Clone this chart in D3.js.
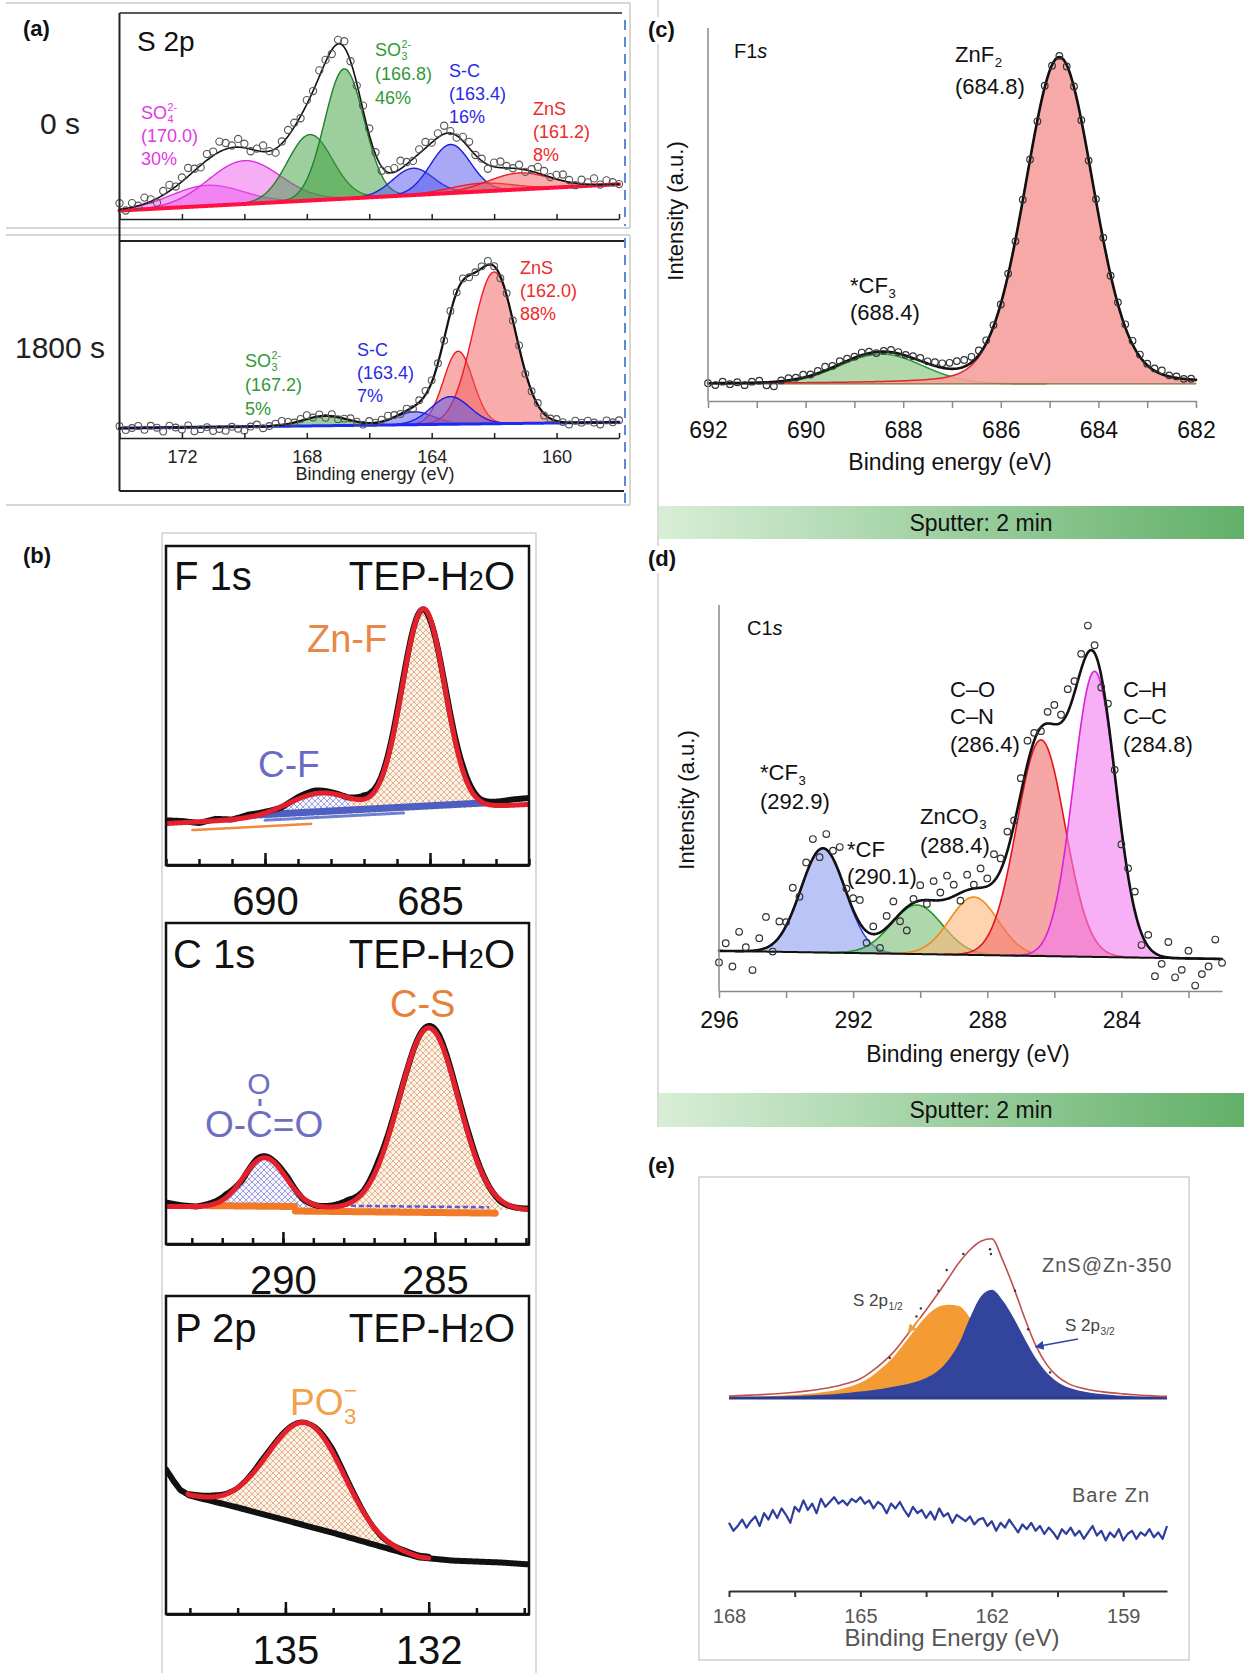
<!DOCTYPE html>
<html>
<head>
<meta charset="utf-8">
<title>XPS spectra</title>
<script src="https://cdn.jsdelivr.net/npm/d3@7"></script>
<style>
  body { margin: 0; background: #fff; }
  svg { display: block; font-family: "Liberation Sans", Arial, Helvetica, sans-serif; }
</style>
</head>
<body>
<svg id="fig" width="1244" height="1673"></svg>
<script>
// ---------------- data ----------------
// (a) S 2p, 0 s   (heights in plot units: 0 = axis line, 1 = frame top)
const a0Center = [171.2, 170.0, 167.9, 166.8, 164.6, 163.4, 162.4, 161.2];
const a0Height = [0.10, 0.21, 0.32, 0.63, 0.13, 0.236, 0.04, 0.08];
const a0Width  = [1.15, 1.15, 0.72, 0.63, 0.65, 0.64, 1.0, 1.0];
const a0Group  = ["SO4", "SO4", "SO3", "SO3", "SC", "SC", "ZnS", "ZnS"];
const a0Base   = [0.041, 0.169];            // background at 174 eV and 158 eV
// measured points minus fit, one every 0.2 eV from 174 eV
const a0Res = [0.03,-0.01,0.02,0.00,0.03,0.01,-0.02,0.02,0.03,0.00,
  0.02,0.04,0.01,-0.01,0.03,0.02,0.05,0.03,0.01,0.04,
  0.02,-0.01,0.01,0.03,0.00,-0.02,0.01,0.03,0.02,-0.01,
  0.02,0.00,0.03,0.01,-0.02,0.02,0.03,0.00,-0.01,0.02,
  0.03,0.01,-0.02,0.01,0.02,0.04,0.01,-0.01,0.02,0.03,
  0.00,0.02,0.04,0.01,-0.01,0.02,0.03,0.00,0.01,-0.02,
  0.02,0.03,0.01,0.00,0.02,-0.01,0.01,0.03,0.02,0.00,
  0.02,0.03,0.01,-0.01,0.02,0.01,0.03,0.00,0.02,0.01,0.00];

// (a) S 2p, 1800 s
const a1Center = [167.4, 164.55, 163.15, 162.0, 163.4];
const a1Height = [0.05, 0.065, 0.37, 0.77, 0.14];
const a1Width  = [0.7, 0.62, 0.47, 0.68, 0.62];
const a1Group  = ["SO3", "SC", "ZnS", "ZnS", "SC"];
const a1Base   = [0.05, 0.08];
const a1Res = [0.01,-0.01,0.00,0.01,-0.01,0.01,0.00,-0.02,0.01,0.00,
  -0.01,0.01,-0.02,-0.01,0.00,-0.02,-0.01,-0.02,0.00,-0.01,
  -0.02,0.00,0.01,-0.01,0.00,0.01,0.02,0.01,0.00,0.01,
  0.02,0.00,0.01,-0.01,0.01,-0.01,0.00,0.01,0.00,-0.01,
  0.01,0.00,0.01,0.02,0.01,0.00,0.01,-0.01,0.01,0.02,
  0.01,0.00,-0.01,0.01,0.00,0.01,-0.01,0.00,0.01,0.02,
  0.00,-0.01,0.01,0.00,0.01,-0.01,0.00,0.01,-0.01,0.00,
  0.01,0.00,-0.01,0.01,0.00,0.01,0.00,-0.01,0.01,0.00,0.01];
const aTicks  = [174, 172, 170, 168, 166, 164, 162, 160, 158];
const aLabels = [172, 168, 164, 160];

// (b) TEP-H2O: F 1s, C 1s, P 2p
const f1Center = [688.3, 685.2], f1Height = [0.07, 0.63], f1Width = [1.0, 0.65];
const f1Base = [0.13, 0.19];                 // at 693 and 682 eV
const f1Res = [0.01,0.005,-0.004,0.006,0.0,0.008,0.004,-0.003,0.006,0.01,0.004,0.0,
  0.012,0.006,0.01,0.004,-0.006,0.008,0.015,0.006,0.012,0.018,0.02];   // every 0.5 eV
const c1Center = [290.6, 285.2], c1Height = [0.155, 0.565], c1Width = [0.7, 0.98];
const c1Base = [0.117, 0.105];               // at 293.85 and 281.9 eV
const c1Res = [0.012,0.004,0.0,0.006,0.01,-0.004,0.006,0.003,0.008,-0.003,0.0,0.005,
  0.012,0.004,0.014,0.006,0.0,0.004,0.01,0.006,0.008,0.002,-0.004,0.0,0.004];
const p2BgEv = [137.5, 137.35, 137.2, 137.0, 136.0, 135.0, 134.0, 133.0, 132.2, 131.5, 130.5, 129.9];
const p2Bg   = [0.455, 0.42, 0.39, 0.372, 0.335, 0.295, 0.255, 0.212, 0.178, 0.168, 0.162, 0.156];
const p2Center = [134.9, 134.2], p2Height = [0.2, 0.17], p2Width = [0.7, 0.65];
const p2Res = [0,0.004,0.006,0.0,0.008,0.004,0.0,0.012,0.006,-0.004,0.004,0.006,0.002,0.004,0.008,0.01];
const f1Minor = d3.range(693, 681, -1), f1Major = [690, 685];
const c1Minor = d3.range(293, 281, -1), c1Major = [290, 285];
const p2Minor = d3.range(137, 129, -1), p2Major = [135, 132];

// (c) F1s, sputter 2 min
const cCenter = [688.45, 684.8], cHeight = [0.08, 0.876], cWidth = [0.85, 0.7], cEta = [0, 0.15];
const cGroup = ["CF3", "ZnF2"];
const cBase = [0.046, 0.046];
const cRes = [0.000,-0.005,0.004,-0.003,0.002,-0.006,0.003,0.005,-0.008,-0.012,
  0.002,0.006,0.004,0.008,0.003,0.006,0.010,0.004,0.008,0.006,
  0.003,0.007,0.004,-0.003,0.002,0.006,0.004,0.002,0.005,0.008,
  0.006,0.010,0.012,0.016,0.020,0.018,0.015,0.012,0.008,0.004,
  -0.002,0.003,-0.004,0.002,0.000,-0.003,0.004,-0.002,0.003,-0.004,
  0.002,0.000,-0.003,0.004,0.006,-0.002,0.005,0.008,0.010,0.006,
  0.004,0.006,0.010,0.003,0.004,0.000,0.002];          // every 0.15 eV from 692
const cTicks = d3.range(692, 681, -1), cLabels = [692, 690, 688, 686, 684, 682];

// (d) C1s, sputter 2 min
const dCenter = [292.9, 290.1, 288.4, 286.4, 284.8];
const dHeight = [0.27, 0.127, 0.15, 0.56, 0.74];
const dWidth  = [0.66, 0.76, 0.72, 0.72, 0.63];
const dGroup  = ["CF3", "CF", "ZnCO3", "CO", "CH"];
const dBase   = [0.104, 0.083];              // at 296 and 281 eV
const dRes = [-0.03,0.02,-0.04,0.05,0.01,-0.05,0.03,0.08,-0.02,0.04,
  0.01,0.06,-0.01,0.03,0.05,-0.02,0.04,0.02,0.07,0.01,
  0.03,0.06,-0.03,0.02,-0.04,0.03,0.05,-0.02,-0.06,0.01,
  0.04,-0.01,0.05,0.02,0.06,0.03,-0.02,0.04,0.01,0.05,
  0.02,0.07,0.03,0.05,0.01,0.04,0.06,0.02,-0.01,0.03,
  0.05,0.02,0.06,0.03,0.04,0.07,0.02,-0.03,0.04,0.01,
  -0.04,0.02,0.05,-0.03,0.03,-0.06,-0.02,0.04,-0.05,-0.03,
  0.02,-0.07,-0.04,-0.02,0.05,-0.01];                  // every 0.2 eV from 296
const dTicks = d3.range(296, 281, -2), dLabels = [296, 292, 288, 284];

// (e) ZnS@Zn-350 and bare Zn, every 0.25 eV from 168 eV (peak of envelope = 1)
const eEnv = [0.012,0.015,0.018,0.021,0.025,0.03,0.036,0.043,0.052,0.063,
  0.077,0.095,0.12,0.165,0.22,0.285,0.37,0.46,0.55,0.645,
  0.745,0.845,0.925,0.98,0.995,0.86,0.69,0.5,0.33,0.21,
  0.135,0.09,0.065,0.05,0.04,0.032,0.026,0.02,0.016,0.012,0.01];
const eP12 = [0.004,0.006,0.008,0.01,0.013,0.016,0.02,0.025,0.031,0.04,
  0.052,0.07,0.095,0.135,0.19,0.255,0.34,0.43,0.51,0.565,
  0.583,0.575,0.5,0.36,0.235,0.14,0.085,0.055,0.038,0.028,
  0.02,0.015,0.011,0.008,0.006,0.004,0.003,0.002,0.001,0,0];
const eP32 = [0.003,0.004,0.005,0.006,0.008,0.01,0.012,0.015,0.018,0.022,
  0.027,0.033,0.04,0.048,0.058,0.07,0.083,0.1,0.125,0.165,
  0.235,0.34,0.5,0.635,0.677,0.61,0.5,0.37,0.25,0.16,
  0.1,0.065,0.045,0.033,0.025,0.019,0.014,0.01,0.007,0.005,0.004];
const eDots = [[164.33,0.25],[163.72,0.51],[163.62,0.56],[163.22,0.67],[163.03,0.80],
  [162.65,0.9],[162.04,0.93],[162.02,0.9],[161.47,0.67],[161.17,0.43],[160.67,0.16]];
// bare Zn, every 0.1 eV from 168 eV
const eBare = [-0.78,-0.83,-0.80,-0.76,-0.81,-0.77,-0.74,-0.80,-0.72,-0.76,
  -0.70,-0.75,-0.69,-0.73,-0.78,-0.68,-0.71,-0.64,-0.70,-0.66,
  -0.72,-0.63,-0.68,-0.65,-0.62,-0.66,-0.64,-0.67,-0.63,-0.65,
  -0.62,-0.66,-0.64,-0.69,-0.65,-0.67,-0.72,-0.66,-0.69,-0.65,
  -0.70,-0.74,-0.68,-0.72,-0.70,-0.75,-0.71,-0.76,-0.69,-0.74,
  -0.72,-0.78,-0.73,-0.75,-0.77,-0.74,-0.79,-0.76,-0.75,-0.80,
  -0.77,-0.83,-0.78,-0.81,-0.76,-0.80,-0.84,-0.79,-0.82,-0.78,
  -0.83,-0.80,-0.85,-0.81,-0.84,-0.88,-0.82,-0.85,-0.81,-0.86,
  -0.83,-0.88,-0.84,-0.80,-0.86,-0.83,-0.89,-0.84,-0.87,-0.82,
  -0.89,-0.85,-0.83,-0.88,-0.84,-0.86,-0.82,-0.87,-0.84,-0.88,-0.80];
const eTicks = [168, 166.5, 165, 163.5, 162, 160.5, 159], eLabels = [168, 165, 162, 159];

// ---------------- helpers ----------------
const svg = d3.select("#fig");
svg.append("rect").attr("width", 1244).attr("height", 1673).attr("fill", "#fff");
const defs = svg.append("defs");

const pv = (e, p) => p.h * ((1 - p.eta) * Math.exp(-((e - p.c) ** 2) / (2 * p.w * p.w))
  + p.eta / (1 + ((e - p.c) / (1.1774 * p.w)) ** 2));
const peaks = (c, h, w, g, eta) => c.map((v, i) => ({ c: v, h: h[i], w: w[i], g: g ? g[i] : null, eta: eta ? eta[i] : 0 }));
const fit = (e, base, ps) => base(e) + d3.sum(ps, p => pv(e, p));

function txt(g, x, y, s, size, o = {}) {
  return g.append("text").attr("x", x).attr("y", y).attr("font-size", size)
    .attr("fill", o.fill || "#111").attr("text-anchor", o.anchor || "start")
    .attr("font-weight", o.weight || null).attr("font-style", o.style || null)
    .attr("letter-spacing", o.ls || null).text(s);
}
function chem(g, x, y, base, sub, sup, size, fill) {
  const t = txt(g, x, y, base, size, { fill });
  const w = t.node().getComputedTextLength();
  if (sub) txt(g, x + w + 0.5, y + size * 0.24, sub, size * 0.6, { fill });
  if (sup) txt(g, x + w + 0.5, y - size * 0.45, sup, size * 0.6, { fill });
}
function block(g, x, y, head, lines, size, gap, fill) {
  chem(g, x, y, head[0], head[1], head[2], size, fill);
  lines.forEach((s, i) => txt(g, x, y + gap * (i + 1), s, size, { fill }));
}
function line(g, x1, y1, x2, y2, col, w, dash) {
  g.append("line").attr("x1", x1).attr("y1", y1).attr("x2", x2).attr("y2", y2)
    .attr("stroke", col).attr("stroke-width", w).attr("stroke-dasharray", dash || null);
}
function drawComps(g, xs, ys, grid, base, ps, pal, op, sw) {
  ps.forEach(p => {
    const pts = p.eta ? grid : grid.filter(e => Math.abs(e - p.c) < 4 * p.w);
    g.append("path").datum(pts)
      .attr("d", d3.area().x(e => xs(e)).y0(e => ys(base(e))).y1(e => ys(base(e) + pv(e, p))))
      .attr("fill", pal[p.g].fill).attr("fill-opacity", op);
    g.append("path").datum(pts)
      .attr("d", d3.line().x(e => xs(e)).y(e => ys(base(e) + pv(e, p))))
      .attr("fill", "none").attr("stroke", pal[p.g].line).attr("stroke-width", sw);
  });
}
function curve(g, xs, ys, grid, f, col, w) {
  g.append("path").datum(grid).attr("d", d3.line().x(e => xs(e)).y(e => ys(f(e))))
    .attr("fill", "none").attr("stroke", col).attr("stroke-width", w)
    .attr("stroke-linejoin", "round").attr("stroke-linecap", "round");
}
function circles(g, xs, ys, pts, r, col, w) {
  g.selectAll(null).data(pts).enter().append("circle")
    .attr("cx", d => xs(d[0])).attr("cy", d => ys(d[1])).attr("r", r)
    .attr("fill", "none").attr("stroke", col).attr("stroke-width", w);
}
function styleAxis(sel, col, w, size, fill) {
  sel.attr("font-family", null).attr("font-size", size);
  sel.select(".domain").attr("stroke", col).attr("stroke-width", w);
  sel.selectAll(".tick line").attr("stroke", col).attr("stroke-width", w);
  sel.selectAll(".tick text").attr("fill", fill);
}

// gradient for the sputter bars and hatches for panel (b)
const gr = defs.append("linearGradient").attr("id", "sputter");
gr.append("stop").attr("offset", "0%").attr("stop-color", "#d8eed6");
gr.append("stop").attr("offset", "100%").attr("stop-color", "#62b06a");
function hatch(id, bg, ln) {
  const p = defs.append("pattern").attr("id", id).attr("width", 6).attr("height", 6)
    .attr("patternUnits", "userSpaceOnUse");
  p.append("rect").attr("width", 6).attr("height", 6).attr("fill", bg);
  p.append("path").attr("d", "M0,0L6,6M6,0L0,6").attr("stroke", ln).attr("stroke-width", 0.8);
}
hatch("hOr", "#fdf2e6", "#e0a07c");
hatch("hBl", "#f6f6ff", "#8a8ad6");

// ---------------- panel (a) ----------------
const gA = svg.append("g");
const xA = d3.scaleLinear([174, 158], [119.5, 619]);
const yA0 = d3.scaleLinear([0, 1], [219, 13]);
const yA1 = d3.scaleLinear([0, 1], [438, 241]);
const gridA = d3.range(174, 157.99, -0.02);
const palA = {
  SO4: { fill: "#ee5cee", line: "#dc32dc" }, SO3: { fill: "#3c9e3c", line: "#23802a" },
  SC: { fill: "#5252ee", line: "#1f1fe0" }, ZnS: { fill: "#f25a5a", line: "#ee1c24" }
};

// frame lines of the (a) image
[3, 228, 235, 505].forEach(y => line(gA, 6, y, 630, y, "#c8c8c8", 1.5));
line(gA, 630, 3, 630, 228, "#c8c8c8", 1.5);
line(gA, 630, 235, 630, 505, "#c8c8c8", 1.5);
line(gA, 625, 20, 625, 226, "#5b8bd6", 2, "10 7");
line(gA, 625, 238, 625, 505, "#5b8bd6", 2, "10 7");

// 0 s
const base0 = d3.scaleLinear([174, 158], a0Base);
const ps0 = peaks(a0Center, a0Height, a0Width, a0Group);
drawComps(gA, xA, yA0, gridA, base0, ps0, palA, 0.5, 1.4);
curve(gA, xA, yA0, gridA, base0, "#ff1040", 4);
curve(gA, xA, yA0, gridA, e => fit(e, base0, ps0), "#111", 1.6);
circles(gA, xA, yA0, a0Res.map((r, i) => [174 - 0.2 * i, fit(174 - 0.2 * i, base0, ps0) + r]), 3.6, "#555", 1.1);

// 1800 s
const base1 = d3.scaleLinear([174, 158], a1Base);
const ps1 = peaks(a1Center, a1Height, a1Width, a1Group);
drawComps(gA, xA, yA1, gridA, base1, ps1, palA, 0.5, 1.4);
curve(gA, xA, yA1, gridA, base1, "#1b2cf0", 3);
curve(gA, xA, yA1, gridA, e => fit(e, base1, ps1), "#111", 2.2);
circles(gA, xA, yA1, a1Res.map((r, i) => [174 - 0.2 * i, fit(174 - 0.2 * i, base1, ps1) + r]), 3.4, "#555", 1.1);

// axes and frames
line(gA, 119.5, 13, 622, 13, "#222", 1.5);
line(gA, 119.5, 13, 119.5, 491, "#222", 2);
line(gA, 119.5, 241, 624, 241, "#222", 2);
line(gA, 119.5, 491, 624, 491, "#222", 2);
const axA = lab => d3.axisBottom(xA).tickValues(aTicks).tickSizeInner(-5).tickSizeOuter(0)
  .tickPadding(12).tickFormat(d => lab && aLabels.includes(d) ? d : "");
styleAxis(gA.append("g").attr("transform", "translate(0,219)").call(axA(false)), "#222", 1.5, 18, "#222");
styleAxis(gA.append("g").attr("transform", "translate(0,438)").call(axA(true)), "#222", 1.5, 18, "#222");
txt(gA, 375, 480, "Binding energy (eV)", 18, { anchor: "middle", fill: "#222" });

txt(gA, 137, 51, "S 2p", 28, { fill: "#111" });
txt(gA, 40, 134, "0 s", 30, { fill: "#222" });
txt(gA, 15, 358, "1800 s", 30, { fill: "#222" });
block(gA, 141, 119, ["SO", "4", "2-"], ["(170.0)", "30%"], 18, 23, "#e23ae2");
block(gA, 375, 56, ["SO", "3", "2-"], ["(166.8)", "46%"], 18, 24, "#2f9a35");
block(gA, 449, 77, ["S-C"], ["(163.4)", "16%"], 18, 23, "#2a2ae6");
block(gA, 533, 115, ["ZnS"], ["(161.2)", "8%"], 18, 23, "#ee2a2a");
block(gA, 520, 274, ["ZnS"], ["(162.0)", "88%"], 18, 23, "#ee2a2a");
block(gA, 245, 367, ["SO", "3", "2-"], ["(167.2)", "5%"], 18, 24, "#2f9a35");
block(gA, 357, 356, ["S-C"], ["(163.4)", "7%"], 18, 23, "#2a2ae6");

// ---------------- panel (b) ----------------
const gB = svg.append("g");
gB.append("rect").attr("x", 162).attr("y", 533).attr("width", 374).attr("height", 1145)
  .attr("fill", "none").attr("stroke", "#cfcfcf").attr("stroke-width", 1.5);

function bBox(id, top, bottom, xs, minor, major) {
  defs.append("clipPath").attr("id", id).append("rect")
    .attr("x", 166).attr("y", top).attr("width", 363).attr("height", bottom - top);
  const g = gB.append("g");
  const inner = g.append("g").attr("clip-path", `url(#${id})`);
  const frame = () => {
    g.append("rect").attr("x", 166).attr("y", top).attr("width", 363).attr("height", bottom - top)
      .attr("fill", "none").attr("stroke", "#111").attr("stroke-width", 2.5);
    const a1 = d3.axisBottom(xs).tickValues(minor).tickSizeInner(-6).tickSizeOuter(0).tickFormat("");
    const a2 = d3.axisBottom(xs).tickValues(major).tickSizeInner(-12).tickSizeOuter(0).tickPadding(22)
      .tickFormat(d3.format("d"));
    styleAxis(g.append("g").attr("transform", `translate(0,${bottom})`).call(a1), "#111", 2.5, 40, "#111");
    styleAxis(g.append("g").attr("transform", `translate(0,${bottom})`).call(a2), "#111", 2.5, 40, "#111");
  };
  return { g, inner, frame };
}
function tep(g, y) {
  const t = g.append("text").attr("x", 515).attr("y", y).attr("font-size", 40)
    .attr("text-anchor", "end").attr("fill", "#111");
  t.append("tspan").text("TEP-H");
  t.append("tspan").attr("font-size", 27).text("2");
  t.append("tspan").text("O");
}
function hatchArea(g, xs, ys, grid, lo, hi, base, top, pat) {
  g.append("path").datum(grid.filter(e => e <= lo && e >= hi))
    .attr("d", d3.area().x(e => xs(e)).y0(e => ys(base(e))).y1(e => ys(top(e))))
    .attr("fill", `url(#${pat})`);
}

// F 1s
{
  const xs = d3.scaleLinear([693, 682], [166, 529]);
  const ys = d3.scaleLinear([0, 1], [865, 546]);
  const grid = d3.range(693, 681.99, -0.02);
  const base = d3.scaleLinear([693, 682], f1Base);
  const ps = peaks(f1Center, f1Height, f1Width);
  const env = e => fit(e, base, ps);
  const b = bBox("clipF1", 546, 865, xs, f1Minor, f1Major);
  hatchArea(b.inner, xs, ys, grid, 690.6, 687.4, base, env, "hBl");
  hatchArea(b.inner, xs, ys, grid, 687.4, 683.2, base, env, "hOr");
  curve(b.inner, xs, ys, grid.filter(e => e <= 692.2 && e >= 688.6), e => base(e) - 0.025, "#f08a3c", 2.5);
  curve(b.inner, xs, ys, grid.filter(e => e <= 690.4 && e >= 683.3), e => base(e) + 0.012, "#4d5fc2", 7);
  curve(b.inner, xs, ys, grid.filter(e => e <= 690 && e >= 685.8), e => base(e) - 0.006, "#7080d0", 3);
  const res = d3.scaleLinear(f1Res.map((r, i) => 693 - 0.5 * i), f1Res);
  curve(b.inner, xs, ys, grid, e => env(e) + res(e), "#111", 6);
  curve(b.inner, xs, ys, grid, env, "#e3202b", 5);
  b.frame();
  txt(b.g, 174, 590, "F 1s", 40);
  tep(b.g, 590);
  txt(b.g, 307, 652, "Zn-F", 38, { fill: "#e8874a" });
  txt(b.g, 258, 777, "C-F", 37, { fill: "#6a6ac6" });
}
// C 1s
{
  const xs = d3.scaleLinear([293.85, 281.9], [166, 529]);
  const ys = d3.scaleLinear([0, 1], [1244, 923]);
  const grid = d3.range(293.85, 281.89, -0.02);
  const base = d3.scaleLinear([293.85, 281.9], c1Base);
  const ps = peaks(c1Center, c1Height, c1Width);
  const env = e => fit(e, base, ps);
  const b = bBox("clipC1", 923, 1244, xs, c1Minor, c1Major);
  hatchArea(b.inner, xs, ys, grid, 292.4, 288.9, base, env, "hBl");
  hatchArea(b.inner, xs, ys, grid, 287.7, 282.6, base, env, "hOr");
  curve(b.inner, xs, ys, grid.filter(e => e <= 292.5 && e >= 289.6), e => base(e) + 0.004, "#f07a28", 7);
  curve(b.inner, xs, ys, grid.filter(e => e <= 289.6 && e >= 283.0), e => base(e) - 0.01, "#f07a28", 7);
  b.inner.append("path").datum(grid.filter(e => e <= 288.3 && e >= 283.2))
    .attr("d", d3.line().x(e => xs(e)).y(e => ys(base(e) + 0.008)))
    .attr("fill", "none").attr("stroke", "#5a5ad0").attr("stroke-width", 2.5).attr("stroke-dasharray", "5 3");
  const res = d3.scaleLinear(c1Res.map((r, i) => 293.85 - 0.5 * i), c1Res);
  curve(b.inner, xs, ys, grid, e => env(e) + res(e), "#111", 6);
  curve(b.inner, xs, ys, grid, env, "#e3202b", 5);
  b.frame();
  txt(b.g, 173, 968, "C 1s", 40);
  tep(b.g, 968);
  txt(b.g, 390, 1017, "C-S", 38, { fill: "#e8803a" });
  txt(b.g, 259, 1094, "O", 30, { fill: "#6f6fc2", anchor: "middle" });
  line(b.g, 260, 1099, 260, 1106, "#6f6fc2", 3);
  txt(b.g, 205, 1137, "O-C=O", 37, { fill: "#6f6fc2" });
}
// P 2p
{
  const xs = d3.scaleLinear([137.5, 129.9], [166, 529]);
  const ys = d3.scaleLinear([0, 1], [1614, 1296]);
  const grid = d3.range(137.5, 129.89, -0.02);
  const base = d3.scaleLinear(p2BgEv, p2Bg);
  const ps = peaks(p2Center, p2Height, p2Width);
  const env = e => fit(e, base, ps);
  const b = bBox("clipP2", 1296, 1614, xs, p2Minor, p2Major);
  hatchArea(b.inner, xs, ys, grid, 136.9, 132.1, base, env, "hOr");
  curve(b.inner, xs, ys, grid, base, "#111", 6);
  const res = d3.scaleLinear(p2Res.map((r, i) => 137.5 - 0.5 * i), p2Res);
  curve(b.inner, xs, ys, grid.filter(e => e <= 137 && e >= 132), e => env(e) + res(e), "#111", 5);
  curve(b.inner, xs, ys, grid.filter(e => e <= 137.05 && e >= 132.0), env, "#e3202b", 5);
  b.frame();
  txt(b.g, 175, 1342, "P 2p", 40);
  tep(b.g, 1342);
  chem(b.g, 290, 1415, "PO", "3", "\u2212", 37, "#f2a24a");
}

// ---------------- panels (c) and (d) ----------------
const gC = svg.append("g");
line(gC, 658, 0, 658, 1127, "#cfcfcf", 1.5);
function sputterBar(g, y, h) {
  g.append("rect").attr("x", 659).attr("y", y).attr("width", 585).attr("height", h).attr("fill", "url(#sputter)");
  txt(g, 981, y + h / 2 + 8, "Sputter: 2 min", 23, { anchor: "middle", fill: "#111" });
}
function ylab(g, x, y) {
  g.append("text").attr("transform", `translate(${x},${y}) rotate(-90)`).attr("text-anchor", "middle")
    .attr("font-size", 22).attr("fill", "#111").text("Intensity (a.u.)");
}
function spectAxis(g, xs, y, ticks, labels) {
  const ax = d3.axisBottom(xs).tickValues(ticks).tickSizeInner(7).tickSizeOuter(0).tickPadding(14)
    .tickFormat(d => labels.includes(d) ? d : "");
  styleAxis(g.append("g").attr("transform", `translate(0,${y})`).call(ax), "#8a8a8a", 1.5, 23, "#111");
}

// (c) F1s
{
  const xs = d3.scaleLinear([692, 682], [708, 1196]);
  const ys = d3.scaleLinear([0, 1], [401, 28]);
  const grid = d3.range(692, 681.99, -0.02);
  const base = d3.scaleLinear([692, 682], cBase);
  const ps = peaks(cCenter, cHeight, cWidth, cGroup, cEta);
  const pal = { CF3: { fill: "#a9d5a3", line: "#2c9a35" }, ZnF2: { fill: "#f5a09d", line: "#e3262b" } };
  drawComps(gC, xs, ys, grid, base, ps, pal, 0.9, 1.5);
  curve(gC, xs, ys, grid, base, "#8a6a3a", 1.2);
  curve(gC, xs, ys, grid, e => fit(e, base, ps), "#111", 2.6);
  circles(gC, xs, ys, cRes.map((r, i) => [692 - 0.15 * i, fit(692 - 0.15 * i, base, ps) + r]), 3.3, "#333", 1.2);
  line(gC, 708, 28, 708, 401, "#8a8a8a", 1.5);
  spectAxis(gC, xs, 401, cTicks, cLabels);
  txt(gC, 950, 470, "Binding energy (eV)", 23, { anchor: "middle" });
  ylab(gC, 683, 211);
  const t = txt(gC, 734, 58, "F1", 20);
  t.append("tspan").attr("font-style", "italic").text("s");
  chem(gC, 955, 62, "ZnF", "2", null, 22, "#111");
  txt(gC, 955, 94, "(684.8)", 22);
  chem(gC, 850, 293, "*CF", "3", null, 22, "#111");
  txt(gC, 850, 320, "(688.4)", 22);
  sputterBar(gC, 506, 33);
}
// (d) C1s
{
  const xs = d3.scaleLinear([296, 281], [719, 1222]);
  const ys = d3.scaleLinear([0, 1], [991, 605]);
  const grid = d3.range(296, 280.99, -0.02);
  const base = d3.scaleLinear([296, 281], dBase);
  const ps = peaks(dCenter, dHeight, dWidth, dGroup);
  const pal = {
    CF3: { fill: "#8c9cf2", line: "#3447e0" }, CF: { fill: "#79bd75", line: "#1f9628" },
    ZnCO3: { fill: "#fbb777", line: "#f28a1c" }, CO: { fill: "#f26a6a", line: "#e2141c" },
    CH: { fill: "#f27af0", line: "#dc1fd8" }
  };
  drawComps(gC, xs, ys, grid, base, ps, pal, 0.6, 1.6);
  curve(gC, xs, ys, grid, base, "#111", 2);
  curve(gC, xs, ys, grid, e => fit(e, base, ps), "#111", 2.6);
  circles(gC, xs, ys, dRes.map((r, i) => [296 - 0.2 * i, fit(296 - 0.2 * i, base, ps) + r]), 3.3, "#333", 1.2);
  line(gC, 719, 605, 719, 991, "#8a8a8a", 1.5);
  spectAxis(gC, xs, 991, dTicks, dLabels);
  txt(gC, 968, 1062, "Binding energy (eV)", 23, { anchor: "middle" });
  ylab(gC, 694, 800);
  const t = txt(gC, 747, 635, "C1", 20);
  t.append("tspan").attr("font-style", "italic").text("s");
  chem(gC, 760, 780, "*CF", "3", null, 22, "#111");
  txt(gC, 760, 809, "(292.9)", 22);
  txt(gC, 847, 857, "*CF", 22);
  txt(gC, 847, 884, "(290.1)", 22);
  chem(gC, 920, 824, "ZnCO", "3", null, 22, "#111");
  txt(gC, 920, 853, "(288.4)", 22);
  txt(gC, 950, 697, "C\u2013O", 22);
  txt(gC, 950, 724, "C\u2013N", 22);
  txt(gC, 950, 752, "(286.4)", 22);
  txt(gC, 1123, 697, "C\u2013H", 22);
  txt(gC, 1123, 724, "C\u2013C", 22);
  txt(gC, 1123, 752, "(284.8)", 22);
  sputterBar(gC, 1093, 34);
}

// ---------------- panel (e) ----------------
const gE = svg.append("g");
gE.append("rect").attr("x", 699).attr("y", 1177).attr("width", 490).attr("height", 483)
  .attr("fill", "none").attr("stroke", "#cfcfcf").attr("stroke-width", 1.5);
{
  const xs = d3.scaleLinear([168, 158], [729, 1167]);
  const ys = d3.scaleLinear([-1, 1], [1558, 1238]);
  const ev = eEnv.map((v, i) => 168 - 0.25 * i);
  const area = vals => d3.area().x((d, i) => xs(ev[i])).y0(ys(0)).y1(d => ys(d)).curve(d3.curveMonotoneX)(vals);
  gE.append("path").attr("d", area(eP12)).attr("fill", "#f59b33");
  gE.append("path").attr("d", area(eP32)).attr("fill", "#33449c");
  line(gE, xs(168), ys(0), xs(158), ys(0), "#2a3a8c", 3);
  gE.append("path").attr("d", d3.line().x((d, i) => xs(ev[i])).y(d => ys(d)).curve(d3.curveMonotoneX)(eEnv))
    .attr("fill", "none").attr("stroke", "#c0504d").attr("stroke-width", 1.6);
  gE.selectAll(null).data(eDots).enter().append("circle")
    .attr("cx", d => xs(d[0])).attr("cy", d => ys(d[1])).attr("r", 1.2).attr("fill", "#333");
  gE.append("path").attr("d", d3.line().x((d, i) => xs(168 - 0.1 * i)).y(d => ys(d))(eBare))
    .attr("fill", "none").attr("stroke", "#2c3d9c").attr("stroke-width", 2.2).attr("stroke-linejoin", "round");
  // axis
  const ax = d3.axisBottom(xs).tickValues(eTicks).tickSizeInner(6).tickSizeOuter(0).tickPadding(12)
    .tickFormat(d => eLabels.includes(d) ? d : "");
  styleAxis(gE.append("g").attr("transform", "translate(0,1591)").call(ax), "#333", 2, 20, "#555");
  txt(gE, 952, 1646, "Binding Energy (eV)", 24, { anchor: "middle", fill: "#555" });
  txt(gE, 1042, 1272, "ZnS@Zn-350", 20, { fill: "#555", ls: 1 });
  txt(gE, 1072, 1502, "Bare Zn", 20, { fill: "#555", ls: 1 });
  chem(gE, 853, 1306, "S 2p", "1/2", null, 17, "#444");
  chem(gE, 1065, 1331, "S 2p", "3/2", null, 17, "#444");
  // arrows towards the envelope
  const mk = (id, col) => defs.append("marker").attr("id", id).attr("viewBox", "0 0 10 10").attr("refX", 9).attr("refY", 5)
    .attr("markerWidth", 6).attr("markerHeight", 6).attr("orient", "auto")
    .append("path").attr("d", "M0,0L10,5L0,10z").attr("fill", col);
  mk("arO", "#f0a040"); mk("arB", "#2f44a8");
  gE.append("line").attr("x1", 920).attr("y1", 1318).attr("x2", xs(163.91)).attr("y2", ys(0.41))
    .attr("stroke", "#f0a040").attr("stroke-width", 1.5).attr("marker-end", "url(#arO)");
  gE.append("line").attr("x1", 1078).attr("y1", 1339).attr("x2", xs(161.0)).attr("y2", ys(0.32))
    .attr("stroke", "#2f44a8").attr("stroke-width", 1.5).attr("marker-end", "url(#arB)");
}

// ---------------- panel letters ----------------
const gL = svg.append("g");
[["(a)", 23, 36], ["(b)", 23, 563], ["(c)", 648, 37], ["(d)", 648, 566], ["(e)", 648, 1173]].forEach(d => {
  gL.append("rect").attr("x", d[1] - 2).attr("y", d[2] - 20).attr("width", 36).attr("height", 27).attr("fill", "#fff");
  txt(gL, d[1], d[2], d[0], 22, { weight: "bold", fill: "#111" });
});
</script>
</body>
</html>
